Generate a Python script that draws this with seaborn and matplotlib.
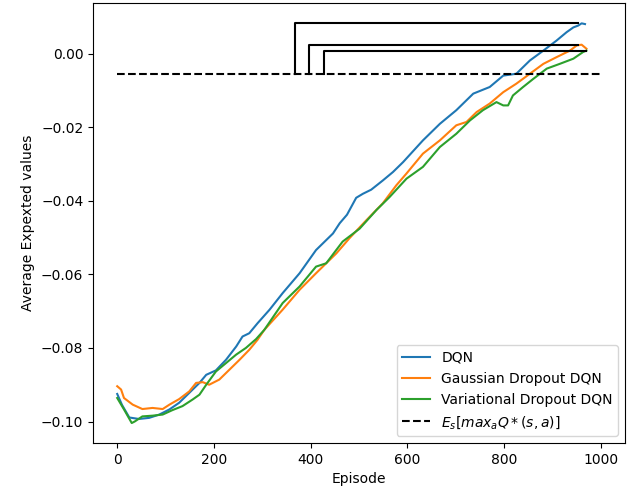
import matplotlib
matplotlib.use("Agg")
import matplotlib.pyplot as plt
import seaborn as sns
import numpy as np

# ---- data ----
dqn_ep = [0, 10, 25, 45, 66, 87, 108, 128, 149, 170, 184, 204, 225, 246, 259, 273, 290,
          315, 342, 377, 411, 446, 460, 475, 494, 508, 525, 549, 570, 591, 632, 667, 701,
          736, 770, 798, 825, 853, 881, 908, 929, 943, 953, 960, 967]
dqn_val = [-0.0925, -0.0955, -0.0989, -0.0993, -0.0990, -0.0981, -0.0967, -0.0949, -0.0922,
           -0.0895, -0.0873, -0.0861, -0.0832, -0.0796, -0.0769, -0.0760, -0.0733,
           -0.0696, -0.0651, -0.0597, -0.0534, -0.0489, -0.0461, -0.0438, -0.0392, -0.0381,
           -0.0370, -0.0345, -0.0322, -0.0295, -0.0236, -0.0191, -0.0154, -0.0109, -0.0091,
           -0.0060, -0.0055, -0.0019, 0.0008, 0.0035, 0.0058, 0.0071, 0.0076, 0.0082, 0.0080]

gau_ep = [0, 8, 14, 32, 52, 73, 94, 108, 128, 149, 163, 177, 190, 211, 232, 253, 273, 290,
          304, 342, 377, 411, 453, 480, 515, 549, 577, 598, 632, 667, 701, 722, 743, 770,
          798, 825, 853, 881, 908, 936, 950, 960, 970]
gau_val = [-0.0904, -0.0913, -0.0936, -0.0954, -0.0966, -0.0963, -0.0966, -0.0954, -0.0939,
           -0.0918, -0.0895, -0.0893, -0.0900, -0.0886, -0.0859, -0.0832, -0.0805, -0.0778,
           -0.0751, -0.0696, -0.0642, -0.0597, -0.0543, -0.0502, -0.0453, -0.0407, -0.0358,
           -0.0326, -0.0272, -0.0236, -0.0195, -0.0186, -0.0159, -0.0136, -0.0105, -0.0082,
           -0.0055, -0.0028, -0.0010, 0.0008, 0.0022, 0.0024, 0.0013]

var_ep = [0, 14, 30, 36, 52, 73, 94, 114, 135, 156, 170, 184, 204, 225, 246, 266, 287, 304,
          342, 377, 411, 432, 466, 501, 536, 563, 598, 632, 667, 701, 729, 756, 784, 798,
          808, 818, 839, 860, 888, 915, 943, 963, 970]
var_val = [-0.0936, -0.0967, -0.1004, -0.1000, -0.0986, -0.0984, -0.0981, -0.0969, -0.0958,
           -0.0940, -0.0927, -0.0900, -0.0864, -0.0841, -0.0818, -0.0800, -0.0776, -0.0751,
           -0.0678, -0.0633, -0.0579, -0.0570, -0.0511, -0.0476, -0.0425, -0.0390, -0.0340,
           -0.0308, -0.0254, -0.0218, -0.0182, -0.0154, -0.0132, -0.0141, -0.0141, -0.0114,
           -0.0091, -0.0069, -0.0041, -0.0028, -0.0014, 0.0004, 0.0008]

labels = ["DQN", "Gaussian Dropout DQN", "Variational Dropout DQN"]
ref_label = r"$E_s[max_aQ*(s,a)]$"
ref_value = -0.0057
ref_span = [0, 1000]

# brackets: (start episode, end episode, height)
bracket_start = [368, 397, 427]
bracket_end = [952, 952, 969]
bracket_top = [0.0083, 0.0024, 0.0007]

colors = ["#1f77b4", "#ff7f0e", "#2ca02c"]

fig = plt.figure(figsize=(6.35, 4.95), dpi=100)
ax = fig.add_axes([0.1465, 0.105, 0.838, 0.889])

for ep, val, lab, col in zip([dqn_ep, gau_ep, var_ep], [dqn_val, gau_val, var_val], labels, colors):
    sns.lineplot(x=ep, y=val, ax=ax, color=col, label=lab, linewidth=1.5)

ax.plot(ref_span, [ref_value, ref_value], color="black", linestyle="--", linewidth=1.5, label=ref_label)

for s, e, t in zip(bracket_start, bracket_end, bracket_top):
    ax.plot([s, s, e], [ref_value, t, t], color="black", linewidth=1.5)

ax.set_xlabel("Episode")
ax.set_ylabel("Average Expexted values")
ax.set_xticks([0, 200, 400, 600, 800, 1000])
ax.set_yticks([0.0, -0.02, -0.04, -0.06, -0.08, -0.10])
ax.legend(loc="lower right")

fig.savefig("out.png", dpi=100)
